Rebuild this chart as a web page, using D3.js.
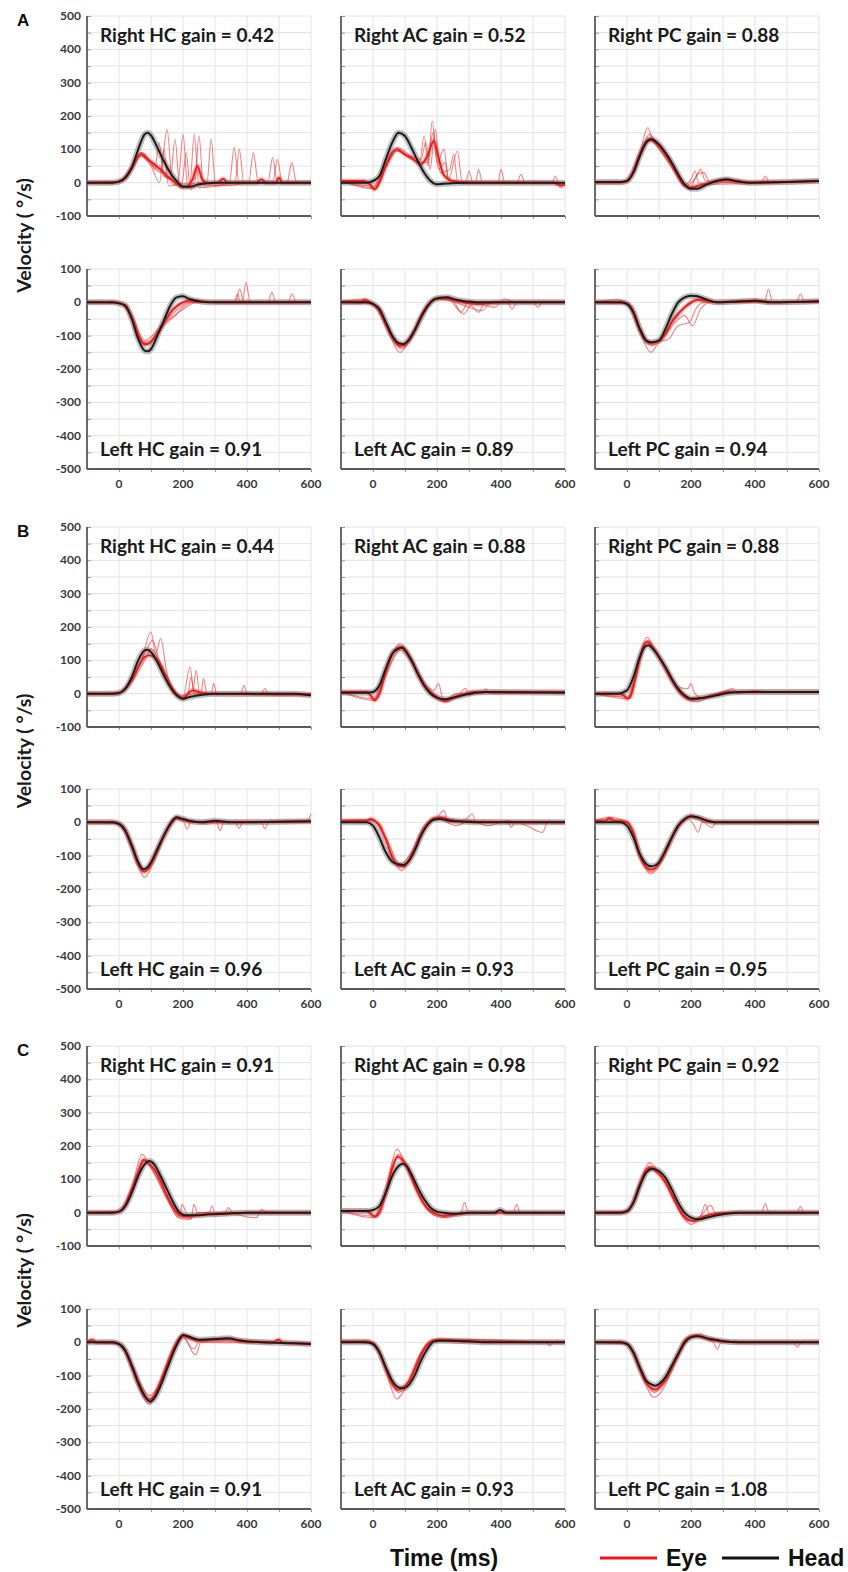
<!DOCTYPE html>
<html>
<head>
<meta charset="utf-8">
<script src="https://cdn.jsdelivr.net/npm/d3@7"></script>
<style>
  body { margin: 0; background: #fff; }
  svg { display: block; }
</style>
</head>
<body>
<div id="chart"></div>
<script>
// Panel labels and gains
const blockNames = ["A", "B", "C"];
const canalNames = ["HC", "AC", "PC"];
const rightGains = [[0.42, 0.52, 0.88], [0.44, 0.88, 0.88], [0.91, 0.98, 0.92]];
const leftGains = [[0.91, 0.89, 0.94], [0.96, 0.93, 0.95], [0.91, 0.93, 1.08]];

// Tick labels
const timeTicks = [0, 200, 400, 600];
const rightTicks = [500, 400, 300, 200, 100, 0, -100];
const leftTicks = [100, 0, -100, -200, -300, -400, -500];

// ---- Block A ----
const headA_RHC = [[-100,0],[-20,0],[0,3],[20,15],[40,45],[60,100],[80,145],[90,150],[100,142],[120,105],[140,65],[160,30],[180,5],[200,-12],[220,-12],[250,-5],[300,0],[600,0]];
const eyeA_RHC = [[-100,0],[-20,0],[0,3],[20,15],[40,45],[60,80],[70,85],[90,70],[110,55],[130,40],[150,20],[170,5],[190,-10],[210,-12],[230,10],[245,50],[260,10],[280,-2],[310,0],[325,12],[340,0],[430,0],[445,10],[460,0],[490,0],[500,15],[510,0],[600,0]];
const trialsA_RHC = [
  [[-100,0],[0,3],[40,45],[70,90],[100,60],[112,40],[125,120],[140,20],[185,5],[200,145],[215,-15],[275,0],[288,130],[302,-10],[405,0],[420,90],[435,0],[600,0]],
  [[-100,0],[0,3],[40,40],[70,80],[100,55],[130,30],[150,160],[168,-5],[222,0],[235,145],[250,-15],[345,0],[360,105],[375,0],[465,0],[480,75],[495,0],[600,0]],
  [[-100,0],[0,3],[40,48],[70,90],[100,60],[130,35],[160,10],[175,130],[190,-15],[237,0],[250,140],[264,-10],[362,0],[376,100],[390,0],[525,0],[540,60],[555,0],[600,0]],
  [[-100,0],[0,2],[40,45],[70,80],[100,50],[127,0],[140,100],[155,-10],[197,0],[210,90],[223,-20],[250,0],[480,0],[495,70],[510,0],[600,0]]
];
const headA_RAC = [[-100,0],[-20,0],[0,5],[20,20],[40,70],[60,120],[80,150],[100,140],[120,105],[140,65],[160,30],[180,5],[200,-5],[220,-3],[300,0],[600,0]];
const eyeA_RAC = [[-100,5],[-30,5],[-10,-5],[5,-20],[20,0],[40,50],[60,90],[75,100],[100,85],[120,75],[150,55],[170,80],[190,125],[205,75],[220,25],[250,5],[300,0],[560,0],[590,-8],[600,-5]];
const trialsA_RAC = [
  [[-100,5],[0,-15],[40,50],[75,95],[120,70],[145,60],[160,140],[172,50],[185,185],[200,60],[222,100],[236,10],[264,95],[278,5],[320,0],[330,40],[342,0],[600,0]],
  [[-100,5],[0,-10],[40,55],[75,105],[120,80],[150,70],[165,120],[178,40],[195,160],[210,30],[240,40],[252,85],[265,0],[390,0],[400,40],[412,0],[560,0],[570,20],[585,-15],[600,0]],
  [[-100,5],[0,-18],[40,45],[75,95],[120,70],[170,60],[188,150],[205,40],[225,60],[238,5],[290,0],[300,35],[312,0],[450,0],[462,25],[475,0],[600,0]]
];
const headA_RPC = [[-100,2],[-20,2],[0,5],[20,30],[40,80],[60,120],[75,130],[100,115],[120,90],[140,60],[160,25],[180,-5],[200,-18],[220,-18],[250,-5],[280,5],[310,10],[340,5],[380,0],[600,5]];
const eyeA_RPC = [[-100,0],[-20,0],[0,5],[20,35],[40,85],[60,122],[72,128],[100,110],[120,85],[140,55],[160,20],[180,-8],[200,-15],[220,-10],[250,-3],[280,5],[310,8],[340,5],[380,0],[600,5]];
const trialsA_RPC = [
  [[-100,0],[0,5],[40,90],[65,165],[80,130],[100,115],[140,55],[180,-5],[200,10],[212,35],[224,0],[250,-5],[600,5]],
  [[-100,0],[0,3],[40,80],[70,145],[100,105],[140,50],[180,-10],[215,15],[230,40],[245,5],[420,0],[432,20],[445,0],[600,5]],
  [[-100,0],[0,5],[40,85],[70,135],[100,100],[140,45],[170,0],[195,-20],[220,25],[240,30],[260,0],[600,5]]
];
const headA_LHC = [[-100,0],[-20,0],[0,-3],[20,-10],[40,-50],[60,-110],[80,-145],[90,-147],[100,-140],[120,-100],[140,-55],[160,-10],[180,15],[200,18],[220,10],[260,2],[300,0],[600,0]];
const eyeA_LHC = [[-100,0],[-20,0],[0,-2],[20,-10],[40,-45],[60,-100],[80,-125],[90,-125],[100,-118],[120,-92],[140,-62],[160,-32],[180,-12],[200,0],[220,5],[260,2],[300,0],[600,0]];
const trialsA_LHC = [
  [[-100,0],[0,-2],[40,-45],[80,-130],[100,-120],[140,-70],[170,-45],[200,-15],[230,0],[365,0],[377,40],[390,0],[600,0]],
  [[-100,0],[0,-2],[40,-45],[80,-120],[100,-115],[140,-65],[180,-35],[210,-15],[240,0],[385,0],[397,60],[410,0],[465,0],[478,30],[490,0],[600,0]],
  [[-100,0],[0,-2],[40,-40],[80,-115],[140,-60],[180,-25],[220,0],[360,0],[370,25],[380,0],[528,0],[541,25],[554,0],[600,0]]
];
const headA_LAC = [[-100,0],[-20,0],[0,-5],[20,-20],[40,-60],[60,-100],[80,-122],[95,-125],[110,-115],[130,-85],[150,-45],[170,-12],[190,8],[210,14],[230,15],[260,8],[300,2],[350,0],[600,0]];
const eyeA_LAC = [[-100,0],[-40,0],[-25,8],[-10,0],[0,-5],[20,-22],[40,-65],[60,-105],[80,-128],[95,-130],[110,-118],[130,-85],[150,-45],[170,-12],[190,8],[210,12],[240,10],[280,0],[330,-5],[400,0],[600,0]];
const trialsA_LAC = [
  [[-100,0],[-30,10],[0,-5],[40,-70],[85,-150],[110,-120],[150,-40],[190,10],[230,15],[265,-20],[285,-35],[305,-10],[330,-30],[350,0],[420,0],[435,-20],[450,0],[600,0]],
  [[-100,5],[-20,5],[0,-5],[40,-60],[90,-140],[120,-100],[160,-20],[200,10],[250,5],[275,-30],[300,5],[380,-15],[410,10],[450,0],[600,0]],
  [[-100,0],[0,-5],[40,-65],[85,-135],[120,-95],[160,-25],[200,12],[240,5],[300,-15],[340,-25],[370,0],[500,0],[515,-15],[530,0],[600,0]]
];
const headA_LPC = [[-100,0],[-20,0],[0,-5],[20,-30],[40,-80],[60,-115],[75,-120],[100,-115],[120,-80],[140,-35],[160,0],[180,15],[200,20],[220,18],[250,8],[280,0],[340,2],[400,5],[450,0],[600,3]];
const eyeA_LPC = [[-100,0],[-20,0],[0,-3],[20,-28],[40,-80],[60,-115],[75,-122],[100,-115],[120,-95],[140,-60],[160,-35],[180,-15],[200,0],[220,8],[250,5],[280,0],[400,5],[450,0],[600,3]];
const trialsA_LPC = [
  [[-100,0],[-30,8],[0,-3],[40,-90],[75,-150],[100,-120],[130,-110],[160,-70],[195,-60],[215,-20],[240,0],[600,0]],
  [[-100,0],[0,-3],[40,-75],[75,-130],[110,-110],[150,-60],[180,-40],[205,-70],[230,-20],[260,0],[430,0],[442,40],[455,0],[600,0]],
  [[-100,0],[0,-3],[40,-80],[70,-125],[110,-105],[150,-40],[190,-10],[220,5],[260,0],[530,0],[542,25],[555,0],[600,0]]
];

// ---- Block B ----
const headB_RHC = [[-100,0],[-20,0],[0,2],[20,15],[40,50],[60,100],[80,130],[90,132],[100,125],[120,95],[140,55],[160,20],[180,-5],[200,-15],[220,-10],[260,-3],[300,0],[550,0],[600,-5]];
const eyeB_RHC = [[-100,0],[-20,0],[0,2],[20,15],[40,40],[60,80],[80,110],[95,115],[110,110],[130,85],[150,45],[170,10],[190,-10],[200,-15],[215,0],[230,10],[250,5],[280,0],[600,-3]];
const trialsB_RHC = [
  [[-100,0],[0,2],[40,45],[70,100],[100,185],[115,120],[130,165],[150,60],[180,0],[200,-10],[222,80],[235,0],[255,-5],[264,45],[275,0],[600,0]],
  [[-100,0],[0,2],[40,40],[80,120],[105,160],[125,100],[150,40],[190,-5],[230,0],[241,70],[252,0],[288,0],[296,30],[305,0],[380,0],[390,25],[400,0],[600,0]],
  [[-100,0],[0,2],[40,35],[80,100],[100,135],[120,110],[150,50],[190,-10],[215,0],[225,50],[235,0],[445,0],[456,15],[467,0],[590,0],[600,-8]]
];
const headB_RAC = [[-100,3],[-20,3],[0,5],[20,25],[40,75],[60,120],[80,135],[90,138],[100,130],[120,100],[140,60],[160,25],[180,0],[200,-12],[225,-17],[250,-12],[280,-5],[320,3],[360,5],[600,3]];
const eyeB_RAC = [[-100,5],[-20,5],[-5,-8],[5,-20],[20,0],[40,65],[60,118],[80,138],[90,140],[100,132],[120,100],[140,60],[160,25],[180,5],[200,-10],[225,-22],[250,-12],[280,-3],[320,5],[360,5],[600,5]];
const trialsB_RAC = [
  [[-100,5],[0,-15],[40,70],[85,150],[120,105],[160,35],[190,10],[205,30],[215,-5],[230,-25],[260,-10],[290,15],[300,-5],[330,5],[600,5]],
  [[-100,5],[0,-20],[40,55],[85,130],[120,95],[160,20],[200,-15],[225,-25],[260,0],[340,0],[352,15],[364,0],[600,5]]
];
const headB_RPC = [[-100,0],[-30,0],[0,10],[20,50],[40,110],[55,140],[67,145],[80,135],[100,110],[120,80],[140,45],[160,15],[180,-5],[200,-15],[240,-12],[280,-5],[320,3],[360,5],[600,5]];
const eyeB_RPC = [[-100,0],[-30,0],[-10,-5],[0,-15],[10,-10],[25,40],[40,105],[55,150],[65,155],[80,140],[100,110],[120,75],[140,40],[160,10],[180,-10],[200,-18],[240,-12],[280,-3],[320,5],[360,5],[600,5]];
const trialsB_RPC = [
  [[-100,0],[0,-15],[40,110],[62,170],[80,145],[120,80],[160,20],[190,15],[200,30],[212,0],[240,-15],[280,0],[320,8],[360,5],[600,5]],
  [[-100,0],[0,-10],[40,100],[65,160],[90,125],[130,60],[170,0],[220,-25],[260,-5],[300,5],[330,15],[345,0],[400,10],[440,5],[600,5]]
];
const headB_LHC = [[-100,0],[-20,0],[0,-5],[20,-25],[40,-70],[60,-120],[75,-140],[85,-138],[100,-120],[120,-80],[140,-40],[160,-5],[180,15],[200,10],[220,5],[260,0],[300,5],[350,0],[600,3]];
const eyeB_LHC = [[-100,0],[-20,0],[0,-4],[20,-25],[40,-72],[60,-125],[78,-148],[90,-140],[100,-125],[120,-85],[140,-42],[160,-8],[180,12],[200,8],[220,2],[260,0],[600,3]];
const trialsB_LHC = [
  [[-100,0],[0,-4],[40,-80],[80,-165],[110,-115],[140,-45],[170,10],[200,5],[212,-20],[225,0],[305,0],[316,-25],[328,0],[600,0]],
  [[-100,0],[0,-4],[40,-65],[80,-150],[110,-110],[140,-40],[180,15],[230,0],[362,0],[375,-18],[388,0],[445,0],[456,-20],[467,0],[585,0],[600,25]]
];
const headB_LAC = [[-100,0],[-20,0],[0,-10],[20,-45],[40,-90],[60,-118],[80,-126],[95,-128],[110,-118],[130,-85],[150,-40],[170,-8],[190,8],[210,10],[240,5],[280,2],[320,0],[600,0]];
const eyeB_LAC = [[-100,5],[-20,5],[-8,10],[5,5],[20,-8],[40,-50],[60,-105],[80,-130],[95,-132],[110,-118],[130,-82],[150,-38],[170,-5],[190,12],[210,15],[240,8],[280,3],[600,0]];
const trialsB_LAC = [
  [[-100,5],[0,8],[40,-55],[90,-145],[120,-95],[160,-15],[200,15],[222,35],[235,0],[290,10],[310,25],[322,0],[420,0],[432,-15],[444,0],[600,0]],
  [[-100,5],[0,5],[40,-45],[85,-125],[120,-90],[160,-10],[200,10],[260,-10],[300,5],[360,-10],[420,5],[480,-10],[530,-30],[545,0],[600,0]]
];
const headB_LPC = [[-100,0],[-20,0],[0,-10],[20,-45],[40,-95],[60,-125],[75,-132],[90,-128],[100,-120],[120,-85],[140,-45],[160,-10],[180,10],[200,18],[220,15],[250,5],[280,0],[600,0]];
const eyeB_LPC = [[-100,5],[-70,5],[-55,12],[-40,5],[-10,2],[0,0],[20,-30],[40,-100],[60,-135],[75,-142],[90,-135],[100,-122],[120,-88],[140,-48],[160,-12],[180,8],[200,18],[220,15],[250,5],[280,0],[600,0]];
const trialsB_LPC = [
  [[-100,5],[-55,15],[0,0],[40,-105],[75,-155],[110,-115],[150,-30],[190,10],[210,-10],[222,-30],[235,0],[600,0]],
  [[-100,5],[0,3],[40,-95],[75,-150],[110,-110],[150,-25],[195,15],[240,0],[265,-15],[280,0],[600,0]]
];

// ---- Block C ----
const headC_RHC = [[-100,0],[-20,0],[0,3],[20,20],[40,60],[60,110],[80,145],[95,155],[110,145],[130,110],[150,70],[170,30],[190,0],[210,-8],[240,-8],[280,-5],[330,-3],[400,0],[600,0]];
const eyeC_RHC = [[-100,0],[-20,0],[0,3],[20,25],[40,70],[60,120],[78,158],[90,150],[110,130],[130,95],[150,50],[170,15],[190,-8],[210,-12],[240,-8],[280,-5],[330,-3],[400,0],[600,0]];
const trialsC_RHC = [
  [[-100,0],[0,3],[40,75],[72,175],[100,135],[140,60],[175,0],[190,-15],[197,25],[210,0],[225,-20],[234,25],[245,0],[282,0],[290,20],[300,0],[600,0]],
  [[-100,0],[0,3],[40,65],[75,160],[110,120],[150,45],[185,-15],[215,-20],[250,0],[330,0],[342,15],[355,0],[430,-15],[445,10],[460,0],[600,0]]
];
const headC_RAC = [[-100,5],[-20,5],[0,8],[20,20],[40,60],[60,110],[80,140],[92,147],[105,140],[120,115],[140,75],[160,40],[180,15],[200,3],[220,0],[260,-3],[300,0],[380,0],[397,8],[415,0],[600,0]];
const eyeC_RAC = [[-100,5],[-20,5],[-5,-5],[5,-12],[20,0],[40,60],[60,135],[78,168],[90,160],[105,140],[120,105],[140,60],[160,25],[180,5],[200,-5],[220,-10],[260,-5],[300,0],[600,0]];
const trialsC_RAC = [
  [[-100,5],[0,-15],[40,70],[75,190],[100,150],[140,65],[180,0],[220,-15],[275,0],[286,30],[298,0],[600,0]],
  [[-100,5],[0,-10],[40,55],[80,175],[110,130],[150,40],[200,-10],[240,-5],[438,0],[449,25],[460,0],[600,0]]
];
const headC_RPC = [[-100,0],[-20,0],[0,5],[20,30],[40,80],[60,120],[80,132],[100,125],[120,105],[140,70],[160,30],[180,0],[200,-15],[225,-20],[260,-12],[300,-5],[350,0],[600,0]];
const eyeC_RPC = [[-100,0],[-20,0],[0,3],[20,30],[40,85],[60,128],[72,135],[90,125],[110,105],[130,75],[150,35],[170,0],[190,-20],[210,-25],[240,-12],[280,-3],[340,0],[600,0]];
const trialsC_RPC = [
  [[-100,0],[0,3],[40,90],[70,150],[100,120],[140,50],[180,-20],[200,-35],[230,-10],[245,25],[258,-5],[300,0],[420,0],[432,27],[444,0],[600,0]],
  [[-100,0],[0,3],[40,80],[70,140],[105,115],[150,30],[190,-25],[230,-10],[262,22],[275,0],[530,0],[542,18],[554,0],[600,0]]
];
const headC_LHC = [[-100,0],[-20,0],[0,-5],[20,-25],[40,-70],[60,-120],[80,-160],[97,-178],[110,-168],[130,-130],[150,-80],[170,-30],[190,10],[200,22],[215,18],[250,8],[300,10],[340,12],[380,5],[450,0],[550,-3],[600,-5]];
const eyeC_LHC = [[-100,0],[-85,8],[-70,0],[-20,0],[0,-5],[20,-25],[40,-72],[60,-125],[80,-162],[95,-172],[110,-160],[130,-118],[150,-68],[170,-22],[190,12],[200,20],[215,15],[250,5],[300,8],[340,10],[400,3],[480,0],[500,8],[510,0],[600,-5]];
const trialsC_LHC = [
  [[-100,0],[0,-5],[40,-80],[95,-185],[130,-115],[170,-15],[195,20],[215,0],[230,-30],[241,-37],[255,0],[600,-3]],
  [[-100,0],[0,-5],[40,-65],[95,-160],[130,-120],[175,-20],[200,15],[220,-10],[235,-20],[250,5],[600,-3]]
];
const headC_LAC = [[-100,0],[-20,0],[0,-5],[20,-30],[40,-75],[60,-115],[80,-135],[97,-138],[110,-130],[130,-100],[150,-55],[170,-20],[190,2],[210,5],[240,5],[300,3],[360,0],[600,0]];
const eyeC_LAC = [[-100,3],[-20,3],[0,-3],[20,-30],[40,-80],[60,-125],[78,-142],[90,-138],[110,-120],[130,-82],[150,-38],[170,-8],[190,5],[210,8],[240,5],[300,2],[600,0]];
const trialsC_LAC = [
  [[-100,3],[0,-3],[40,-85],[74,-170],[100,-140],[140,-50],[180,5],[220,10],[600,0]],
  [[-100,3],[0,-5],[40,-75],[80,-150],[110,-125],[150,-30],[190,8],[540,0],[552,-10],[565,0],[600,0]]
];
const headC_LPC = [[-100,0],[-20,0],[0,-5],[20,-30],[40,-75],[60,-115],[80,-128],[90,-130],[100,-125],[120,-105],[140,-70],[160,-35],[180,0],[200,15],[220,18],[260,10],[300,3],[350,0],[600,0]];
const eyeC_LPC = [[-100,0],[-20,0],[0,-5],[20,-32],[40,-80],[60,-122],[80,-140],[90,-142],[100,-135],[120,-112],[140,-75],[160,-35],[180,3],[200,18],[220,20],[260,10],[300,3],[350,0],[600,0]];
const trialsC_LPC = [
  [[-100,0],[0,-5],[40,-85],[85,-165],[110,-145],[140,-85],[180,-5],[210,22],[240,10],[270,0],[282,-20],[295,0],[600,0]],
  [[-100,0],[0,-5],[40,-75],[85,-150],[120,-120],[160,-40],[200,15],[230,25],[260,5],[520,0],[532,-15],[545,0],[600,0]]
];

// table of panels: block, column, row (0 = right/top, 1 = left/bottom)
const panels = [
  [0,0,0,headA_RHC,eyeA_RHC,trialsA_RHC],[0,1,0,headA_RAC,eyeA_RAC,trialsA_RAC],[0,2,0,headA_RPC,eyeA_RPC,trialsA_RPC],
  [0,0,1,headA_LHC,eyeA_LHC,trialsA_LHC],[0,1,1,headA_LAC,eyeA_LAC,trialsA_LAC],[0,2,1,headA_LPC,eyeA_LPC,trialsA_LPC],
  [1,0,0,headB_RHC,eyeB_RHC,trialsB_RHC],[1,1,0,headB_RAC,eyeB_RAC,trialsB_RAC],[1,2,0,headB_RPC,eyeB_RPC,trialsB_RPC],
  [1,0,1,headB_LHC,eyeB_LHC,trialsB_LHC],[1,1,1,headB_LAC,eyeB_LAC,trialsB_LAC],[1,2,1,headB_LPC,eyeB_LPC,trialsB_LPC],
  [2,0,0,headC_RHC,eyeC_RHC,trialsC_RHC],[2,1,0,headC_RAC,eyeC_RAC,trialsC_RAC],[2,2,0,headC_RPC,eyeC_RPC,trialsC_RPC],
  [2,0,1,headC_LHC,eyeC_LHC,trialsC_LHC],[2,1,1,headC_LAC,eyeC_LAC,trialsC_LAC],[2,2,1,headC_LPC,eyeC_LPC,trialsC_LPC]
].map(p => ({block: p[0], col: p[1], row: p[2], head: p[3], eye: p[4], trials: p[5]}));

// Layout
const width = 848, height = 1572;
const colX = [87, 341, 595];
const plotW = 224, plotH = 200;
const blockTop = [16, 527, 1046];     // y of "500"
const blockBottom = [269, 789, 1309]; // y of "100"

const labelFont = "Lato, 'Open Sans', sans-serif";
const arialFont = "'Liberation Sans', Arial, sans-serif";

const svg = d3.select('#chart')
    .append('svg')
    .attr('width', width)
    .attr('height', height);

svg.append('rect').attr('width', width).attr('height', height).attr('fill', '#fff');

const x = d3.scaleLinear().domain([-100, 600]).range([0, plotW]);
const yTop = d3.scaleLinear().domain([-100, 500]).range([plotH, 0]);
const yBottom = d3.scaleLinear().domain([-500, 100]).range([plotH, 0]);

panels.forEach(p => {
    const y = p.row === 0 ? yTop : yBottom;
    const top = p.row === 0 ? blockTop[p.block] : blockBottom[p.block];
    const g = svg.append('g').attr('transform', `translate(${colX[p.col]},${top})`);
    const [y0, y1] = y.domain();

    // grid
    g.selectAll('.hgrid')
        .data(d3.range(y0 + 50, y1 + 1, 50))
        .enter().append('line')
        .attr('x1', 0).attr('x2', plotW)
        .attr('y1', d => y(d)).attr('y2', d => y(d))
        .attr('stroke', '#e2e2e2').attr('stroke-width', 1);
    g.selectAll('.vgrid')
        .data(d3.range(0, 601, 100))
        .enter().append('line')
        .attr('x1', d => x(d)).attr('x2', d => x(d))
        .attr('y1', 0).attr('y2', plotH)
        .attr('stroke', '#e2e2e2').attr('stroke-width', 1);

    // axes
    const yAxis = d3.axisRight(y).tickValues(d3.range(y0, y1 + 1, 50)).tickSize(4).tickFormat('');
    const ya = g.append('g').call(yAxis);
    ya.select('.domain').remove();
    ya.selectAll('line').attr('stroke', '#999');
    const xAxis = d3.axisBottom(x).tickValues(d3.range(0, 601, 100)).tickSize(3).tickFormat('');
    const xa = g.append('g').attr('transform', `translate(0,${plotH})`).call(xAxis);
    xa.select('.domain').remove();
    xa.selectAll('line').attr('stroke', '#999');

    g.append('line').attr('x1', 0).attr('x2', 0).attr('y1', 0).attr('y2', plotH)
        .attr('stroke', '#5a5a5a').attr('stroke-width', 1.8);
    g.append('line').attr('x1', 0).attr('x2', plotW).attr('y1', plotH).attr('y2', plotH)
        .attr('stroke', '#5a5a5a').attr('stroke-width', 1.8);

    // tick labels
    if (p.col === 0) {
        g.selectAll('.ylab')
            .data(p.row === 0 ? rightTicks : leftTicks)
            .enter().append('text')
            .attr('x', -6).attr('y', d => y(d) + 4)
            .attr('text-anchor', 'end')
            .attr('font-family', labelFont).attr('font-weight', 700)
            .attr('font-size', 12).attr('fill', '#3a3a3a')
            .text(d => d);
    }
    if (p.row === 1) {
        g.selectAll('.xlab')
            .data(timeTicks)
            .enter().append('text')
            .attr('x', d => x(d)).attr('y', plotH + 19)
            .attr('text-anchor', 'middle')
            .attr('font-family', labelFont).attr('font-weight', 700)
            .attr('font-size', 12).attr('fill', '#3a3a3a')
            .text(d => d);
    }

    const line = d3.line()
        .x(d => x(d[0]))
        .y(d => y(d[1]))
        .curve(d3.curveMonotoneX);

    // head spread (gray)
    g.append('path').attr('d', line(p.head))
        .attr('fill', 'none').attr('stroke', '#8a8a8a')
        .attr('stroke-opacity', 0.55).attr('stroke-width', 6);

    // eye trials
    g.selectAll('.trial')
        .data(p.trials)
        .enter().append('path')
        .attr('d', line)
        .attr('fill', 'none').attr('stroke', '#ec3030')
        .attr('stroke-opacity', 0.6).attr('stroke-width', 1.1);

    // eye spread + mean
    g.append('path').attr('d', line(p.eye))
        .attr('fill', 'none').attr('stroke', '#f03030')
        .attr('stroke-opacity', 0.3).attr('stroke-width', 5);
    g.append('path').attr('d', line(p.eye))
        .attr('fill', 'none').attr('stroke', '#e0201e')
        .attr('stroke-width', 1.9);

    // head mean
    g.append('path').attr('d', line(p.head))
        .attr('fill', 'none').attr('stroke', '#1c1c1c')
        .attr('stroke-width', 2);

    // gain label
    const gain = p.row === 0 ? rightGains[p.block][p.col] : leftGains[p.block][p.col];
    const side = p.row === 0 ? 'Right' : 'Left';
    g.append('text')
        .attr('x', 13)
        .attr('y', p.row === 0 ? 26 : plotH - 13)
        .attr('font-family', labelFont).attr('font-weight', 700)
        .attr('font-size', 19).attr('fill', '#1a1a1a')
        .text(`${side} ${canalNames[p.col]} gain = ${gain.toFixed(2)}`);
});

// block letters and y axis titles
blockNames.forEach((name, i) => {
    svg.append('text')
        .attr('x', 17).attr('y', blockTop[i] + 10)
        .attr('font-family', arialFont).attr('font-weight', 700)
        .attr('font-size', 17).attr('fill', '#111')
        .text(name);

    const cy = (blockTop[i] + plotH + blockBottom[i]) / 2 - 7;
    svg.append('text')
        .attr('transform', `translate(31,${cy}) rotate(-90)`)
        .attr('text-anchor', 'middle')
        .attr('font-family', labelFont).attr('font-weight', 700)
        .attr('font-size', 19.5).attr('fill', '#1a1a1a')
        .text('Velocity ( °/s)');
});

// x title and legend
svg.append('text')
    .attr('x', 390).attr('y', 1566)
    .attr('font-family', arialFont).attr('font-weight', 700)
    .attr('font-size', 23).attr('fill', '#111')
    .text('Time (ms)');

const legend = [
    {name: 'Eye', color: '#f01414', x: 600},
    {name: 'Head', color: '#111', x: 722}
];
legend.forEach(d => {
    svg.append('line')
        .attr('x1', d.x).attr('x2', d.x + 57)
        .attr('y1', 1558).attr('y2', 1558)
        .attr('stroke', d.color).attr('stroke-width', 3);
    svg.append('text')
        .attr('x', d.x + 66).attr('y', 1566)
        .attr('font-family', arialFont).attr('font-weight', 700)
        .attr('font-size', 23).attr('fill', '#111')
        .text(d.name);
});
</script>
</body>
</html>
